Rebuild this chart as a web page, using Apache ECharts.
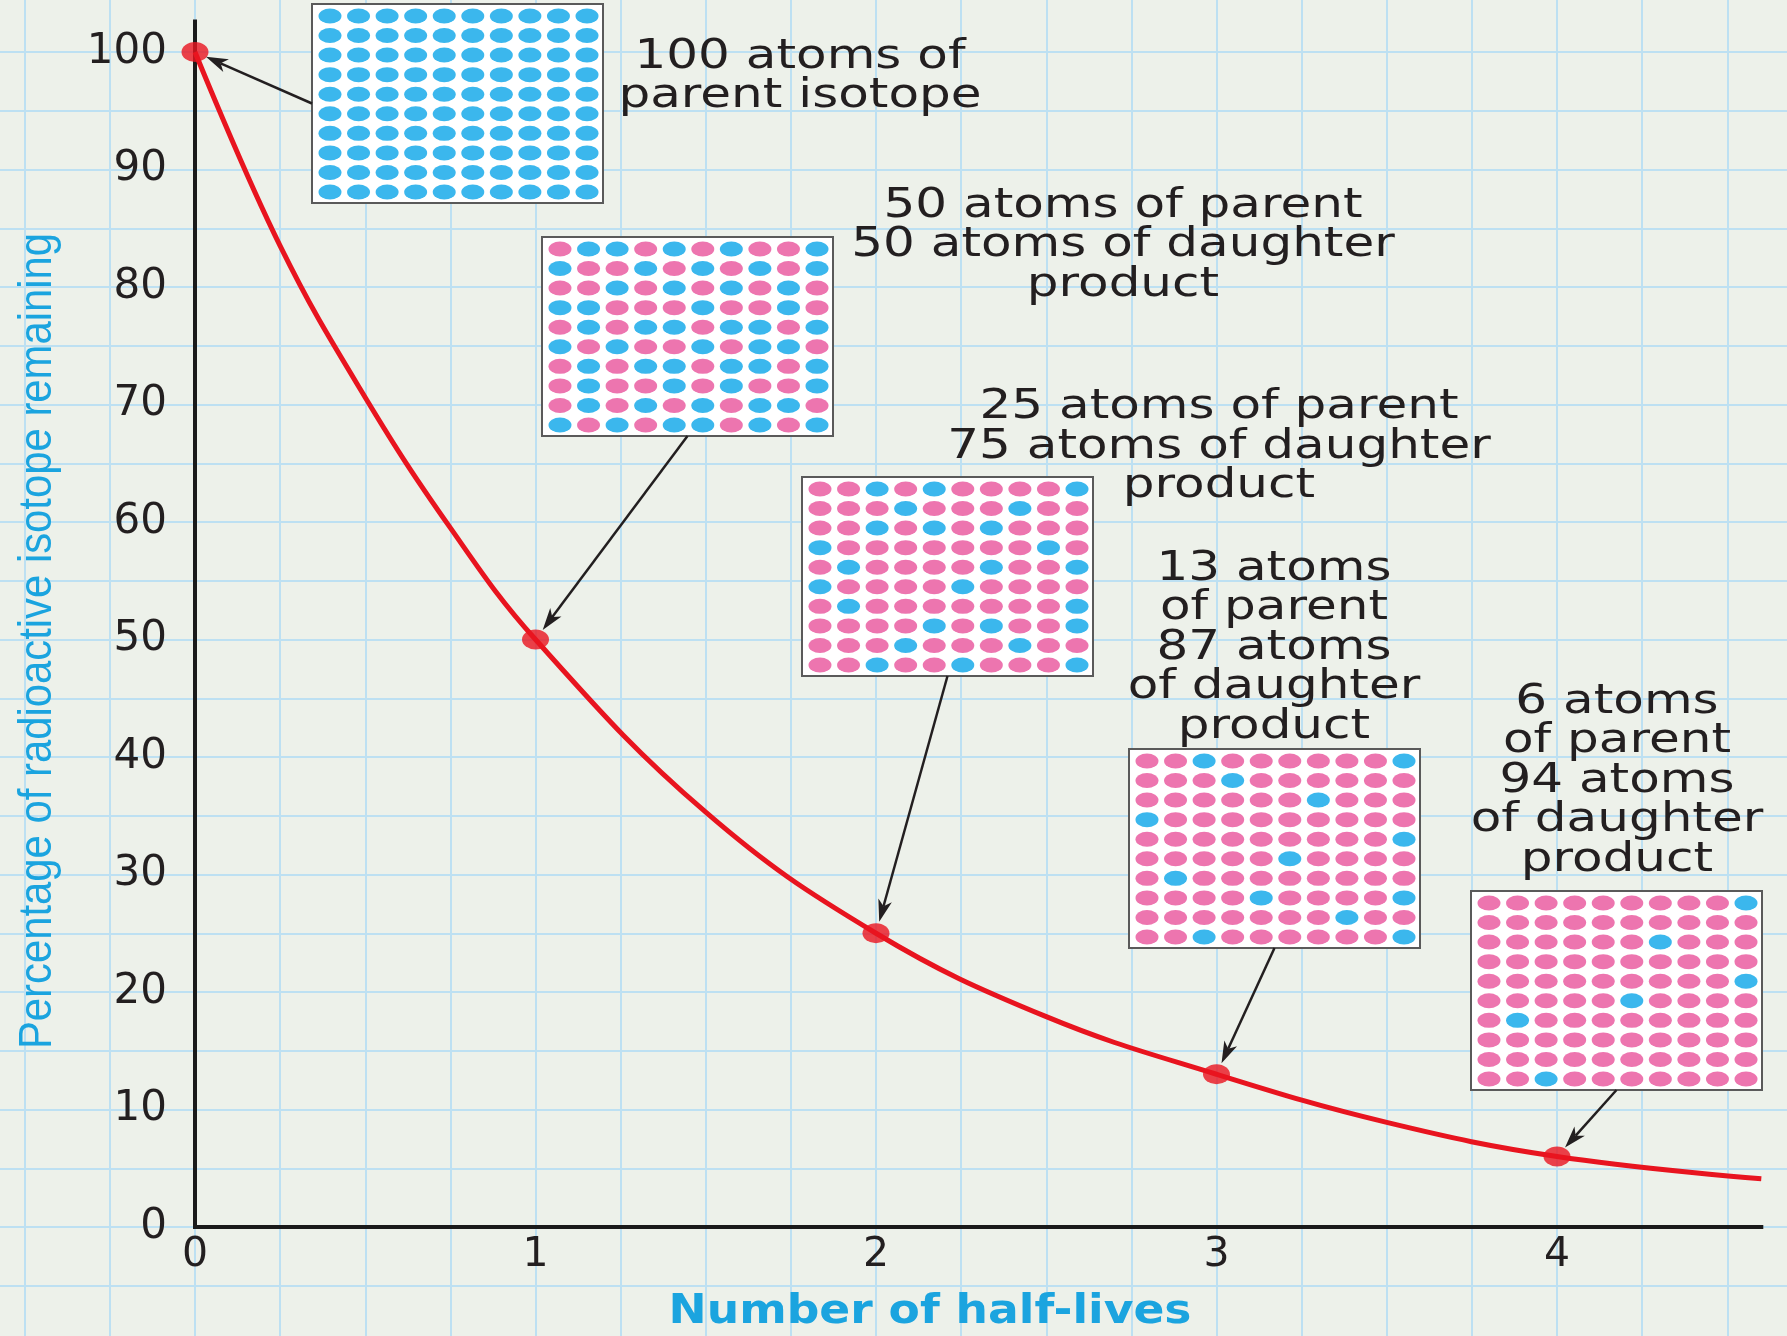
<!DOCTYPE html>
<html>
<head>
<meta charset="utf-8">
<script src="https://cdn.jsdelivr.net/npm/echarts@6/dist/echarts.min.js"></script>
<style>
html, body { margin: 0; padding: 0; background: #edf1ea; }
#chart { width: 1787px; height: 1336px; }
</style>
</head>
<body>
<div id="chart"></div>
<script>
// Radioactive decay: percentage of parent isotope left after each half-life
const curveX = [0, 0.25, 0.5, 0.75, 1, 1.5, 2, 2.5, 3, 3.5, 4, 4.6];
const curveY = [100, 83.5, 70.6, 59.5, 50, 35.3, 25, 17.9, 13, 8.9, 6, 4.1];

// Highlighted points (one per half-life)
const pointX = [0, 1, 2, 3, 4];
const pointY = [100, 50, 25, 13, 6];

// Axis ticks
const xTickStep = 1;
const yTickStep = 10;

// Annotation text for each point
const notes = [
  ['100 atoms of', 'parent isotope'],
  ['50 atoms of parent', '50 atoms of daughter', 'product'],
  ['25 atoms of parent', '75 atoms of daughter', 'product'],
  ['13 atoms', 'of parent', '87 atoms', 'of daughter', 'product'],
  ['6 atoms', 'of parent', '94 atoms', 'of daughter', 'product']
];

// 10 x 10 atom samples: B = parent atom, P = daughter atom
const sample0 = [
  'BBBBBBBBBB', 'BBBBBBBBBB', 'BBBBBBBBBB', 'BBBBBBBBBB', 'BBBBBBBBBB',
  'BBBBBBBBBB', 'BBBBBBBBBB', 'BBBBBBBBBB', 'BBBBBBBBBB', 'BBBBBBBBBB'
];
const sample1 = [
  'PBBPBPBPPB', 'BPPBPBPBPB', 'PPBPBPBPBP', 'BBPPPBPPBP', 'PBPBBPBBPB',
  'BPBPPBPBBP', 'PBPBBPBBPB', 'PBPPBPBPPB', 'PBPBPBPBBP', 'BPBPBBPBPB'
];
const sample2 = [
  'PPBPBPPPPB', 'PPPBPPPBPP', 'PPBPBPBPPP', 'BPPPPPPPBP', 'PBPPPPBPPB',
  'BPPPPBPPPP', 'PBPPPPPPPB', 'PPPPBPBPPB', 'PPPBPPPBPP', 'PPBPPBPPPB'
];
const sample3 = [
  'PPBPPPPPPB', 'PPPBPPPPPP', 'PPPPPPBPPP', 'BPPPPPPPPP', 'PPPPPPPPPB',
  'PPPPPBPPPP', 'PBPPPPPPPP', 'PPPPBPPPPB', 'PPPPPPPBPP', 'PPBPPPPPPB'
];
const sample4 = [
  'PPPPPPPPPB', 'PPPPPPPPPP', 'PPPPPPBPPP', 'PPPPPPPPPP', 'PPPPPPPPPB',
  'PPPPPBPPPP', 'PBPPPPPPPP', 'PPPPPPPPPP', 'PPPPPPPPPP', 'PPBPPPPPPP'
];
const samples = [sample0, sample1, sample2, sample3, sample4];

// ---- layout and styling ----
const RED = '#e8141f';
const BLUE = '#0aa5e8';
const PINK = '#e9529b';
const INK = '#231f20';
const CYAN = '#1ba4df';
const GRIDLINE = '#bde0f2';

const X0 = 195, UNIT_X = 340.5;     // pixel of x = 0, pixels per half-life
const Y0 = 1227, UNIT_Y = 11.75;    // pixel of y = 0, pixels per percent
const X_MAX = 4.6, Y_MAX = 102.6;

const boxPos = [[312, 4], [542, 237], [802, 477], [1129, 749], [1471, 891]];
const BOX_W = 291, BOX_H = 199;
const noteCenter = [[800, 77], [1123, 246], [1219, 447.5], [1274, 648.5], [1617, 781.5]];

const chart = echarts.init(document.getElementById('chart'), null, { renderer: 'canvas' });

const grids = [
  // graph paper behind everything
  { left: X0 - 0.75 * UNIT_X, top: Y0 - 105 * UNIT_Y, width: 5.75 * UNIT_X, height: 115 * UNIT_Y, outerBoundsMode: 'none', containLabel: false },
  // decay plot
  { left: X0, top: Y0 - Y_MAX * UNIT_Y, width: X_MAX * UNIT_X, height: Y_MAX * UNIT_Y, outerBoundsMode: 'none', containLabel: false }
];
boxPos.forEach(([l, t]) => grids.push({
  left: l, top: t, width: BOX_W, height: BOX_H,
  show: true, backgroundColor: '#ffffff', borderColor: '#5a5a5a', borderWidth: 2,
  outerBoundsMode: 'none', containLabel: false, z: 5
}));

const paperAxis = (min, max, step, idx) => ({
  type: 'value', gridIndex: idx, min, max, interval: step, z: 0,
  axisLine: { show: false }, axisTick: { show: false }, axisLabel: { show: false },
  splitLine: { show: true, lineStyle: { color: GRIDLINE, width: 2 } }
});

const xAxes = [
  paperAxis(-0.75, 5, 0.25, 0),
  {
    type: 'value', gridIndex: 1, min: 0, max: X_MAX, interval: xTickStep, z: 4,
    axisLine: { show: true, lineStyle: { color: '#1a1a1a', width: 4, cap: 'square' } },
    axisTick: { show: false },
    splitLine: { show: false },
    axisLabel: {
      margin: 8, color: INK, fontSize: 41, fontFamily: 'DejaVu Sans',
      formatter: v => (Math.abs(v - Math.round(v)) < 1e-9 ? String(Math.round(v)) : '')
    }
  }
];
const yAxes = [
  paperAxis(-10, 105, 5, 0),
  {
    type: 'value', gridIndex: 1, min: 0, max: Y_MAX, interval: yTickStep, z: 4,
    axisLine: { show: true, lineStyle: { color: '#1a1a1a', width: 4, cap: 'square' } },
    axisTick: { show: false },
    splitLine: { show: false },
    axisLabel: {
      margin: 28, color: INK, fontSize: 42, fontFamily: 'DejaVu Sans',
      formatter: v => (v % yTickStep === 0 ? String(v) : '')
    }
  }
];
boxPos.forEach((_, i) => {
  xAxes.push({ type: 'value', gridIndex: 2 + i, min: -0.63, max: 9.56, show: false });
  yAxes.push({ type: 'value', gridIndex: 2 + i, min: -0.61, max: 9.56, inverse: true, show: false });
});

const series = [
  {
    type: 'line', xAxisIndex: 1, yAxisIndex: 1, z: 6,
    data: curveX.map((x, i) => [x, curveY[i]]),
    smooth: 0.4, showSymbol: false, silent: true,
    lineStyle: { color: RED, width: 5 }
  },
  {
    type: 'scatter', xAxisIndex: 1, yAxisIndex: 1, z: 7,
    data: pointX.map((x, i) => [x, pointY[i]]),
    symbol: 'circle', symbolSize: [27, 20], silent: true,
    itemStyle: { color: RED }
  }
];
samples.forEach((rows, i) => {
  const parent = [], daughter = [];
  rows.forEach((row, r) => row.split('').forEach((c, col) => {
    (c === 'B' ? parent : daughter).push([col, r]);
  }));
  [[parent, BLUE], [daughter, PINK]].forEach(([data, color]) => series.push({
    type: 'scatter', xAxisIndex: 2 + i, yAxisIndex: 2 + i, z: 8, silent: true,
    data, symbol: 'circle', symbolSize: [23, 15], itemStyle: { color }
  }));
});

const texts = notes.map((lines, i) => ({
  type: 'text', x: noteCenter[i][0], y: noteCenter[i][1], scaleX: 1.25, z: 20,
  style: {
    text: lines.join('\n'), fill: INK, fontSize: 40, fontFamily: 'DejaVu Sans',
    lineHeight: 39.5, align: 'center', verticalAlign: 'middle'
  }
}));
texts.push({
  type: 'text', x: 38, y: 641, rotation: Math.PI / 2, scaleX: 0.89, z: 20,
  style: {
    text: 'Percentage of radioactive isotope remaining', fill: CYAN, fontSize: 47,
    fontFamily: '"Liberation Sans Narrow", "Liberation Sans", sans-serif',
    align: 'center', verticalAlign: 'middle'
  }
});
texts.push({
  type: 'text', x: 930, y: 1313, scaleX: 1.14, z: 20,
  style: {
    text: 'Number of half-lives', fill: CYAN, fontSize: 40, fontWeight: 'bold',
    fontFamily: 'DejaVu Sans', align: 'center', verticalAlign: 'middle'
  }
});

chart.setOption({
  animation: false,
  backgroundColor: '#edf1ea',
  grid: grids, xAxis: xAxes, yAxis: yAxes, series,
  graphic: { elements: texts }
});

// Arrows from each sample box to its point on the curve
const arrows = [];
boxPos.forEach(([l, t], i) => {
  const start = i === 0 ? [l, t + BOX_H / 2] : [l + BOX_W / 2, t + BOX_H];
  const p = chart.convertToPixel({ gridIndex: 1 }, [pointX[i], pointY[i]]);
  const dx = start[0] - p[0], dy = start[1] - p[1];
  const len = Math.hypot(dx, dy);
  const ux = dx / len, uy = dy / len;
  const nx = -uy, ny = ux;
  const tip = [p[0] + ux * 12, p[1] + uy * 12];
  const base = [tip[0] + ux * 22, tip[1] + uy * 22];
  const notch = [tip[0] + ux * 16, tip[1] + uy * 16];
  arrows.push({
    type: 'line', z: 15, silent: true,
    shape: { x1: start[0], y1: start[1], x2: notch[0], y2: notch[1] },
    style: { stroke: INK, lineWidth: 2.5 }
  });
  arrows.push({
    type: 'polygon', z: 15, silent: true,
    shape: { points: [tip, [base[0] + nx * 7, base[1] + ny * 7], notch, [base[0] - nx * 7, base[1] - ny * 7]] },
    style: { fill: INK }
  });
});
chart.setOption({ graphic: { elements: texts.concat(arrows) } });
</script>
</body>
</html>
